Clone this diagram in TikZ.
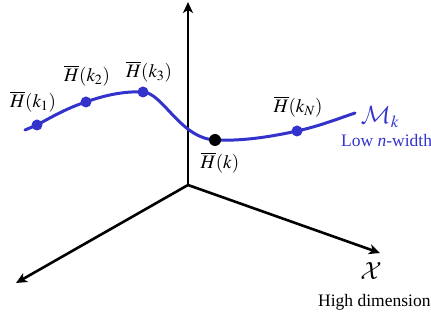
\documentclass[tikz,border=0pt]{standalone}
\usepackage{mathptmx}
\DeclareMathAlphabet{\mathcal}{OMS}{cmsy}{m}{n}
\usepackage{fontspec}
\setmainfont{Liberation Serif}
\usetikzlibrary{arrows.meta}
\definecolor{curveblue}{RGB}{51,51,204}
\begin{document}
\begin{tikzpicture}[x=1pt,y=-1pt,
  axis/.style={line width=2.6pt,-{Stealth[length=11pt,width=10pt,inset=3pt]}},
  curve/.style={curveblue,line width=3pt,line cap=round},
  bdot/.style={circle,fill=curveblue,inner sep=0pt,minimum size=11pt},
  kdot/.style={circle,fill=black,inner sep=0pt,minimum size=12pt},
  mlabel/.style={inner sep=0pt,font=\fontsize{19}{22}\selectfont},
  clabel/.style={inner sep=0pt,font=\fontsize{23}{26}\selectfont},
  tlabel/.style={inner sep=0pt,font=\fontsize{17.5}{20}\selectfont}]
\useasboundingbox (0,0) rectangle (431,320);
% axes
\coordinate (O) at (188,185);
\coordinate (top) at (188,2);
\coordinate (left) at (16,283);
\coordinate (right) at (380,253);
\draw[axis] (O) -- (top);
\draw[axis] (O) -- (left);
\draw[axis] (O) -- (right);
% curve points
\coordinate (s) at (25,130);
\coordinate (p1) at (37,125);
\coordinate (p2) at (86,102);
\coordinate (p3) at (143,92);
\coordinate (pk) at (215,140);
\coordinate (pN) at (297,131);
\coordinate (e) at (355,113);
\draw[curve] (s) -- (p1)
  .. controls (55,115) and (70,107) .. (p2)
  .. controls (105,95) and (125,91) .. (p3)
  .. controls (163,93) and (180,138) .. (pk)
  .. controls (240,141) and (265,138) .. (pN)
  .. controls (320,126) and (340,118) .. (e);
\node[bdot] (k1) at (p1) {};
\node[bdot] (k2) at (p2) {};
\node[bdot] (k3) at (p3) {};
\node[bdot] (kN) at (pN) {};
\node[kdot] (k) at (pk) {};
% labels
\node[mlabel] (l1) at (33,102) {$\overline{H}(k_1)$};
\node[mlabel] (l2) at (87,76) {$\overline{H}(k_2)$};
\node[mlabel] (l3) at (149,72) {$\overline{H}(k_3)$};
\node[mlabel] (lk) at (220,163) {$\overline{H}(k)$};
\node[mlabel] (lN) at (298,107) {$\overline{H}(k_N)$};
\node[clabel,text=curveblue] (M) at (380,117) {$\mathcal{M}_k$};
\node[tlabel,text=curveblue,anchor=west] (low) at (341,141) {Low \textit{n}-width};
\node[clabel] (X) at (371,271) {$\mathcal{X}$};
\node[tlabel,anchor=west] (high) at (318,302) {High dimension};
\end{tikzpicture}
\end{document}
